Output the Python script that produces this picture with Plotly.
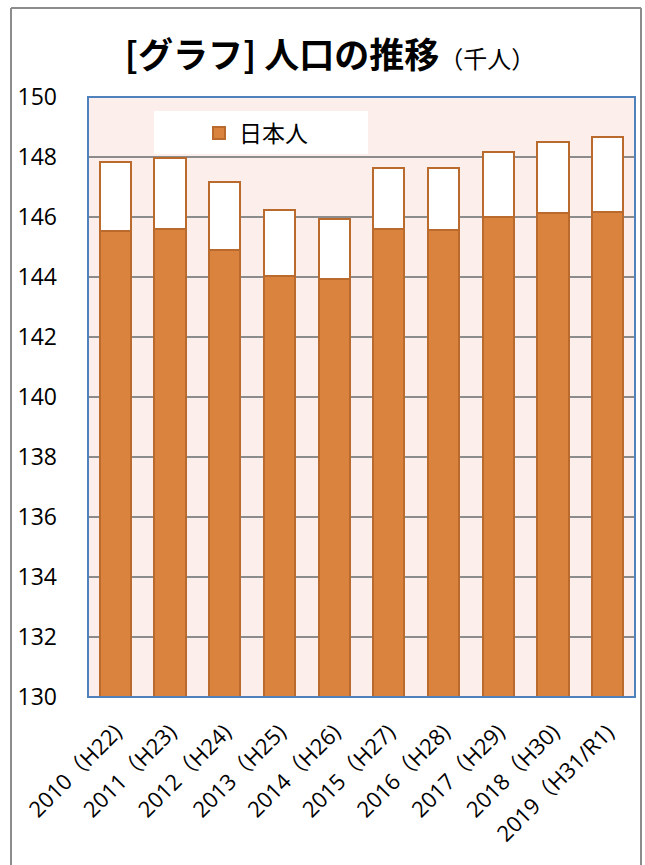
import plotly.graph_objects as go

categories = ["2010（H22)", "2011（H23)", "2012（H24)", "2013（H25)", "2014（H26)",
              "2015（H27)", "2016（H28)", "2017（H29)", "2018（H30)", "2019（H31/R1)"]
japanese = [145.55, 145.59, 144.91, 144.05, 143.92, 145.60, 145.56, 146.01, 146.13, 146.16]
total = [147.84, 147.98, 147.17, 146.23, 145.94, 147.62, 147.64, 148.16, 148.51, 148.66]
foreign = [round(t - j, 2) for t, j in zip(total, japanese)]
y_ticks = [130, 132, 134, 136, 138, 140, 142, 144, 146, 148, 150]

ORANGE = "#DA833E"
EDGE = "#BA6A2C"
FONT = "Open Sans, Noto Sans CJK JP, sans-serif"
JP = "Noto Sans CJK JP, sans-serif"

fig = go.Figure()
fig.add_trace(go.Bar(x=categories, y=japanese, name="日本人",
                     marker=dict(color=ORANGE, line=dict(color=EDGE, width=2))))
fig.add_trace(go.Bar(x=categories, y=foreign, name="外国人", showlegend=False,
                     marker=dict(color="white", line=dict(color=EDGE, width=2))))

W, H = 645, 865
L, R, T, B = 88, 10, 97, 168
pw, ph = W - L - R, H - T - B

def px(x):
    return (x - L) / pw

def py(y):
    return (H - B - y) / ph

shapes = [
    # outer frame
    dict(type="line", xref="paper", yref="paper", x0=px(11), x1=px(11), y0=py(880), y1=py(8),
         line=dict(color="#8C8C8C", width=2)),
    dict(type="line", xref="paper", yref="paper", x0=px(11), x1=px(641), y0=py(8), y1=py(8),
         line=dict(color="#8C8C8C", width=2)),
    dict(type="line", xref="paper", yref="paper", x0=px(641), x1=px(641), y0=py(8), y1=py(880),
         line=dict(color="#8C8C8C", width=2)),
    # legend box
    dict(type="rect", xref="paper", yref="paper", x0=px(154), x1=px(368), y0=py(154), y1=py(111),
         fillcolor="white", line=dict(width=0), layer="above"),
    # plot border
    dict(type="rect", xref="paper", yref="paper", x0=0, x1=1, y0=0, y1=1,
         line=dict(color="#4F81BD", width=2), layer="above"),
]

fig.update_layout(
    width=W, height=H,
    margin=dict(l=L, r=R, t=T, b=B),
    barmode="stack",
    bargap=0.43,
    paper_bgcolor="white",
    plot_bgcolor="#FCEEEA",
    font=dict(family=FONT, color="black"),
    title=dict(
        text="<b>[グラフ] 人口の推移</b><span style='font-size:24px'>（千人）</span>",
        x=330 / W, xref="container", xanchor="center", y=1 - 56 / H, yanchor="middle",
        font=dict(family=JP, size=35, color="black"),
    ),
    legend=dict(x=px(199), y=py(133), xanchor="left", yanchor="middle",
                bgcolor="rgba(0,0,0,0)", font=dict(family=JP, size=23)),
    shapes=shapes,
    xaxis=dict(tickangle=-45, tickfont=dict(size=22), showgrid=False, showline=False, ticks="",
               ticklabelstandoff=17),
    yaxis=dict(range=[130, 150], tickvals=y_ticks, tickfont=dict(size=23),
               showgrid=True, gridcolor="#8C8C8C", gridwidth=2, zeroline=False,
               ticklabelstandoff=30, showline=False, ticks=""),
)

fig.write_html("out.html", config={"displayModeBar": False},
               post_script="document.body.style.margin='0px';")
